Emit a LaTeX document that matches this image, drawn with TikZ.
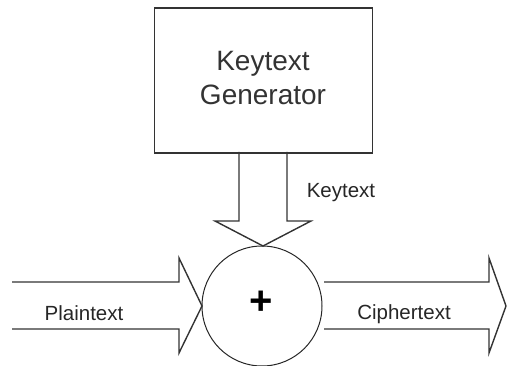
\documentclass[tikz,border=0pt]{standalone}
\usepackage{fontspec}
\setmainfont{Liberation Sans}
\begin{document}
\begin{tikzpicture}[x=1pt,y=-1pt,
  ln/.style={draw=black!80, line width=1.4pt, line join=miter},
  thin/.style={draw=black!85, line width=1pt},
  big/.style={font=\fontsize{28}{33}\selectfont, text=black!80, align=center},
  lbl/.style={font=\fontsize{20.5}{24}\selectfont, text=black!85, inner sep=0pt}]
\useasboundingbox (0,0) rectangle (507,366);
% generator box
\node[ln, minimum width=218pt, minimum height=145pt, anchor=north west, inner sep=0pt] (gen) at (154,7.5) {};
\node[big] (gentext) at (263,78) {Keytext\\[1pt]Generator};
% xor circle
\node[thin, circle, minimum size=120pt, inner sep=0pt] (xor) at (262,306) {};
\node[font=\fontsize{40}{40}\selectfont\bfseries, inner sep=0pt] (plus) at (261,303) {+};
% down arrow (keytext)
\coordinate (kt) at (263,246);
\draw[ln] (239,152) -- (239,221) -- (215,221) -- (kt) -- (311,221) -- (287,221) -- (287,152);
\node[lbl] (klabel) at (341,193) {Keytext};
% left arrow (plaintext)
\coordinate (pt) at (202,306);
\draw[ln] (12,282) -- (179,282) -- (179,258) -- (pt) -- (179,353) -- (179,329) -- (12,329);
\node[lbl] (plabel) at (84,313) {Plaintext};
% right arrow (ciphertext)
\coordinate (ct) at (506,306);
\draw[ln] (324,282) -- (489,282) -- (489,258) -- (ct) -- (489,353) -- (489,329) -- (324,329);
\node[lbl] (clabel) at (404,314) {Ciphertext};
\end{tikzpicture}
\end{document}
